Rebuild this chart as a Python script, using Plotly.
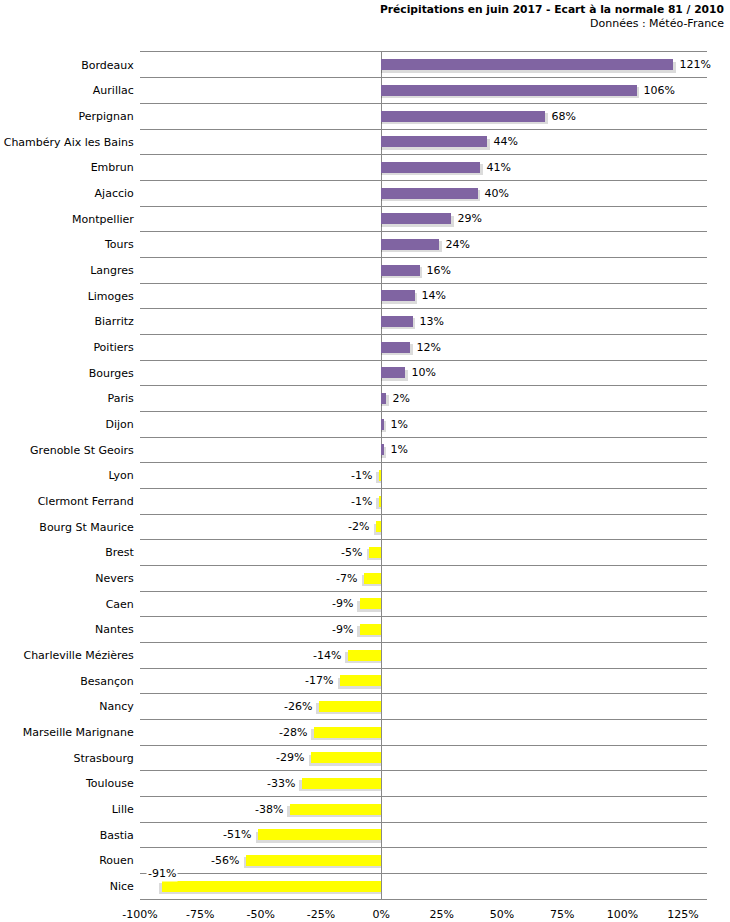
import plotly.graph_objects as go

cities = ["Bordeaux", "Aurillac", "Perpignan", "Chambéry Aix les Bains", "Embrun", "Ajaccio",
          "Montpellier", "Tours", "Langres", "Limoges", "Biarritz", "Poitiers", "Bourges",
          "Paris", "Dijon", "Grenoble St Geoirs", "Lyon", "Clermont Ferrand", "Bourg St Maurice",
          "Brest", "Nevers", "Caen", "Nantes", "Charleville Mézières", "Besançon", "Nancy",
          "Marseille Marignane", "Strasbourg", "Toulouse", "Lille", "Bastia", "Rouen", "Nice"]
values = [121, 106, 68, 44, 41, 40, 29, 24, 16, 14, 13, 12, 10, 2, 1, 1, -1, -1, -2, -5, -7,
          -9, -9, -14, -17, -26, -28, -29, -33, -38, -51, -56, -91]
x_ticks = [-100, -75, -50, -25, 0, 25, 50, 75, 100, 125]
x_tick_labels = ["-100%", "-75%", "-50%", "-25%", "0%", "25%", "50%", "75%", "100%", "125%"]

POS = "#8064A2"
NEG = "#FFFF00"
FONT = "DejaVu Sans"

ypos = list(range(len(cities)))
bw = 0.42
colors = [POS if v >= 0 else NEG for v in values]
labels = [f"{v}%" for v in values]
inside_fit = [v > -80 for v in values]
bar_text = [("\u00a0" + t if v >= 0 else t + "\u00a0") if ok else ""
            for t, v, ok in zip(labels, values, inside_fit)]

fig = go.Figure()
# drop shadow
fig.add_trace(go.Bar(
    y=ypos, x=[v + (1.0 if v >= 0 else -1.0) for v in values], orientation="h",
    width=bw, offset=-bw / 2 + 0.09,
    marker=dict(color="rgba(0,0,0,0.14)", line=dict(width=0)),
    hoverinfo="skip", showlegend=False,
))
fig.add_trace(go.Bar(
    y=ypos, x=values, orientation="h", width=bw, offset=-bw / 2,
    marker=dict(color=colors, line=dict(width=0)),
    text=bar_text, textposition="outside", cliponaxis=False, constraintext="none",
    textfont=dict(family=FONT, size=11, color="#000000"),
    showlegend=False,
))

annotations = []
for i, (v, t, ok) in enumerate(zip(values, labels, inside_fit)):
    if not ok:
        annotations.append(dict(x=v, y=i - 0.5, text=t, showarrow=False, xref="x", yref="y",
                                bgcolor="white", font=dict(family=FONT, size=11, color="#000"),
                                borderpad=1))
annotations.append(dict(xref="paper", yref="paper", x=1.0, y=1.0, xanchor="right", yanchor="bottom",
                        yshift=34, xshift=19,
                        text="<b>Précipitations en juin 2017 - Ecart à la normale 81 / 2010</b>",
                        showarrow=False, font=dict(family=FONT, size=10.7, color="#000")))
annotations.append(dict(xref="paper", yref="paper", x=1.0, y=1.0, xanchor="right", yanchor="bottom",
                        yshift=20, xshift=19, text="Données : Météo-France", showarrow=False,
                        font=dict(family=FONT, size=11, color="#000")))

fig.update_layout(
    width=730, height=922,
    margin=dict(l=140, r=23, t=52, b=23, autoexpand=False),
    plot_bgcolor="white", paper_bgcolor="white",
    barmode="overlay", bargap=0,
    annotations=annotations,
    font=dict(family=FONT, size=11, color="#000"),
    xaxis=dict(range=[-100, 135], tickvals=x_ticks, ticktext=x_tick_labels, automargin=False,
               showgrid=False, zeroline=True, zerolinecolor="#888888", zerolinewidth=1,
               showline=True, mirror=True, linecolor="#888888", linewidth=1,
               ticks="outside", ticklen=5, tickcolor="rgba(0,0,0,0)",
               tickfont=dict(family=FONT, size=11, color="#000"), fixedrange=True),
    yaxis=dict(range=[len(cities) - 0.5, -0.5], tickvals=ypos, ticktext=cities, automargin=False,
               showgrid=False, zeroline=False, ticks="outside", ticklen=3,
               tickcolor="rgba(0,0,0,0)",
               tickfont=dict(family=FONT, size=11, color="#000"),
               minor=dict(tick0=0.5, dtick=1, showgrid=True, gridcolor="#888888", gridwidth=1,
                          ticks=""),
               fixedrange=True),
)

fig.write_html("out.html", config={"displayModeBar": False},
               post_script="document.body.style.margin='0';document.body.style.overflow='hidden';")
